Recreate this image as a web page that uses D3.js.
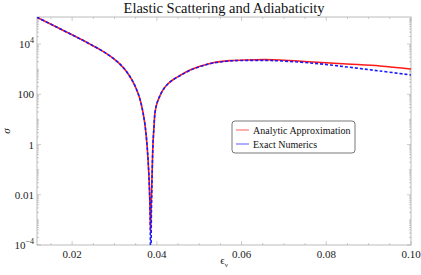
<!DOCTYPE html>
<html>
<head>
<meta charset="utf-8">
<script src="https://cdn.jsdelivr.net/npm/d3@7"></script>
<style>
  body { margin: 0; background: white; }
  text { font-family: "Liberation Serif", "DejaVu Serif", serif; }
</style>
</head>
<body>
<div id="chart"></div>
<script>
//constants
const width = 421;
const height = 275;
const margin = { top: 17, right: 10, bottom: 30, left: 37 };

// data
const epsAnalytic = [0.0117, 0.01524, 0.01878, 0.02232, 0.02421, 0.02657, 0.02822, 0.02964, 0.03129, 0.03295, 0.03436, 0.03554, 0.03625, 0.03672, 0.0372, 0.03767, 0.03814, 0.03838, 0.03852, 0.03866, 0.03885, 0.03908, 0.03932, 0.03956, 0.04003, 0.04074, 0.04145, 0.04263, 0.04381, 0.04546, 0.04782, 0.05018, 0.05325, 0.05727, 0.06128, 0.06553, 0.06907, 0.07686, 0.08488, 0.09267, 0.1];
const sigmaAnalytic = [117000, 58900, 29500, 14800, 10000, 6030, 4070, 2750, 1585, 759, 316, 112, 44.7, 19.1, 6.0, 1, 0.05, 0.0032, 3.2e-4, 0.0032, 0.05, 1, 5.0, 18.6, 44.7, 89, 151, 263, 380, 562, 933, 1318, 1820, 2190, 2340, 2400, 2340, 1950, 1620, 1350, 1020];

const epsExact = [0.0117, 0.01524, 0.01878, 0.02232, 0.02421, 0.02657, 0.02822, 0.02964, 0.03129, 0.03295, 0.03436, 0.03554, 0.03625, 0.03672, 0.0372, 0.03767, 0.03814, 0.03838, 0.03856, 0.03872, 0.03888, 0.03908, 0.03932, 0.03956, 0.04003, 0.04074, 0.04145, 0.04263, 0.04381, 0.04546, 0.04782, 0.05018, 0.05325, 0.05727, 0.06128, 0.06553, 0.06907, 0.07686, 0.08488, 0.09267, 0.1];
const sigmaExact = [117000, 58900, 29500, 14800, 10000, 6030, 4070, 2750, 1585, 759, 316, 112, 44.7, 19.1, 6.0, 1, 0.05, 0.0025, 1e-5, 0.0025, 0.05, 1, 5.0, 18.6, 44.7, 89, 151, 263, 380, 550, 900, 1280, 1760, 2140, 2240, 2240, 2140, 1740, 1230, 850, 590];

const xTicks = [0.02, 0.04, 0.06, 0.08, 0.1];
const xTickLabels = ["0.02", "0.04", "0.06", "0.08", "0.10"];
const yTicks = [1e-4, 0.01, 1, 100, 1e4];
const yTickLabels = [["10", "\u22124"], ["0.01", ""], ["1", ""], ["100", ""], ["10", "4"]];

const legendNames = ["Analytic Approximation", "Exact Numerics"];
const legendColors = ["#ff3333", "#3333ff"];

const svg = d3.select("#chart").append("svg")
  .attr("width", width)
  .attr("height", height);

const x = d3.scaleLinear()
  .domain([0.0117, 0.1])
  .range([margin.left, width - margin.right]);

const y = d3.scaleLog()
  .domain([1e-4, 1.2e5])
  .range([height - margin.bottom, margin.top]);

const frameColor = "#aaaaaa";

// clip
svg.append("clipPath").attr("id", "clip")
  .append("rect")
  .attr("x", margin.left)
  .attr("y", margin.top)
  .attr("width", width - margin.left - margin.right)
  .attr("height", height - margin.top - margin.bottom);

// minor ticks
const xMinor = d3.range(0.015, 0.1001, 0.005).filter(v => !xTicks.some(t => Math.abs(t - v) < 1e-9));
const yMinor = [];
for (let e = -4; e <= 5; e++) {
  for (let k = 1; k <= 9; k++) {
    const v = k * Math.pow(10, e);
    if (v >= 1e-4 && v <= 1.2e5 && !yTicks.some(t => Math.abs(t - v) / t < 1e-9)) yMinor.push(v);
  }
}

const ticks = svg.append("g").attr("stroke", frameColor).attr("stroke-width", 0.6);
const y0 = height - margin.bottom, y1 = margin.top;
const x0 = margin.left, x1 = width - margin.right;

xTicks.forEach(t => {
  ticks.append("line").attr("x1", x(t)).attr("x2", x(t)).attr("y1", y0).attr("y2", y0 - 4);
  ticks.append("line").attr("x1", x(t)).attr("x2", x(t)).attr("y1", y1).attr("y2", y1 + 4);
});
xMinor.forEach(t => {
  ticks.append("line").attr("x1", x(t)).attr("x2", x(t)).attr("y1", y0).attr("y2", y0 - 2);
  ticks.append("line").attr("x1", x(t)).attr("x2", x(t)).attr("y1", y1).attr("y2", y1 + 2);
});
yTicks.forEach(t => {
  ticks.append("line").attr("x1", x0).attr("x2", x0 + 4).attr("y1", y(t)).attr("y2", y(t));
  ticks.append("line").attr("x1", x1).attr("x2", x1 - 4).attr("y1", y(t)).attr("y2", y(t));
});
yMinor.forEach(t => {
  ticks.append("line").attr("x1", x0).attr("x2", x0 + 2).attr("y1", y(t)).attr("y2", y(t));
  ticks.append("line").attr("x1", x1).attr("x2", x1 - 2).attr("y1", y(t)).attr("y2", y(t));
});

// frame
svg.append("rect")
  .attr("x", x0).attr("y", y1)
  .attr("width", x1 - x0).attr("height", y0 - y1)
  .attr("fill", "none")
  .attr("stroke", frameColor)
  .attr("stroke-width", 0.8);

// tick labels
svg.selectAll(".xlab")
  .data(xTicks)
  .join("text")
  .attr("x", d => x(d))
  .attr("y", y0 + 13)
  .attr("text-anchor", "middle")
  .attr("font-size", 11)
  .attr("fill", "#222")
  .text((d, i) => xTickLabels[i]);

const ylab = svg.selectAll(".ylab")
  .data(yTicks)
  .join("text")
  .attr("x", x0 - 3)
  .attr("y", d => y(d) + 4)
  .attr("text-anchor", "end")
  .attr("font-size", 11)
  .attr("fill", "#222");
ylab.append("tspan").text((d, i) => yTickLabels[i][0]);
ylab.append("tspan")
  .attr("dy", -5)
  .attr("font-size", 8)
  .text((d, i) => yTickLabels[i][1]);

// lines
const line = d3.line()
  .x(d => x(d[0]))
  .y(d => y(d[1]))
  .curve(d3.curveCatmullRom.alpha(0.5));

const plot = svg.append("g").attr("clip-path", "url(#clip)");

plot.append("path")
  .attr("d", line(d3.zip(epsAnalytic, sigmaAnalytic)))
  .attr("fill", "none")
  .attr("stroke", "#ff1a1a")
  .attr("stroke-width", 1.6);

plot.append("path")
  .attr("d", line(d3.zip(epsExact, sigmaExact)))
  .attr("fill", "none")
  .attr("stroke", "#1a1aff")
  .attr("stroke-width", 1.6)
  .attr("stroke-dasharray", "3,2");

// title and axis labels
svg.append("text")
  .attr("x", (x0 + x1) / 2)
  .attr("y", 13)
  .attr("text-anchor", "middle")
  .attr("font-size", 14.5)
  .attr("fill", "#111")
  .text("Elastic Scattering and Adiabaticity");

svg.append("text")
  .attr("transform", `translate(10, ${(y0 + y1) / 2}) rotate(-90)`)
  .attr("text-anchor", "middle")
  .attr("font-size", 11)
  .attr("font-style", "italic")
  .attr("fill", "#222")
  .text("\u03c3");

const xl = svg.append("text")
  .attr("x", (x0 + x1) / 2)
  .attr("y", 264)
  .attr("text-anchor", "middle")
  .attr("font-size", 11)
  .attr("fill", "#222");
xl.append("tspan").text("\u03f5");
xl.append("tspan").attr("dy", 3).attr("font-size", 7).text("\u03bd");

// legend
const lg = svg.append("g").attr("transform", "translate(232,121)");
lg.append("rect")
  .attr("width", 123).attr("height", 32)
  .attr("rx", 3)
  .attr("fill", "white")
  .attr("stroke", "#555")
  .attr("stroke-width", 0.8);
const items = lg.selectAll(".item")
  .data(legendNames)
  .join("g")
  .attr("transform", (d, i) => `translate(4, ${9 + i * 14})`);
items.append("line")
  .attr("x1", 0).attr("x2", 13)
  .attr("stroke", (d, i) => legendColors[i])
  .attr("stroke-opacity", 0.8)
  .attr("stroke-width", 1);
items.append("text")
  .attr("x", 17)
  .attr("y", 3.5)
  .attr("font-size", 10)
  .attr("fill", "#111")
  .text(d => d);
</script>
</body>
</html>
